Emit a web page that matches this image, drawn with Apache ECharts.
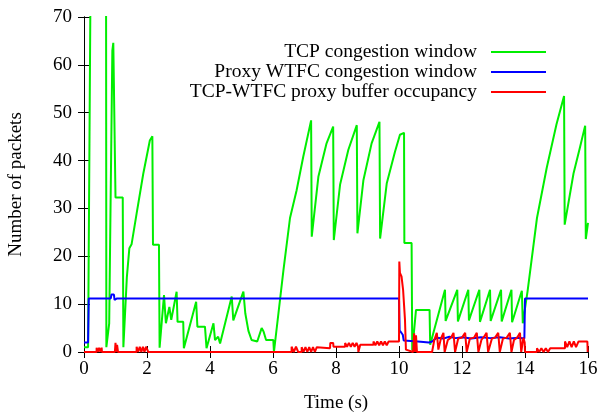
<!DOCTYPE html>
<html>
<head>
<meta charset="utf-8">
<script src="https://cdn.jsdelivr.net/npm/echarts@6/dist/echarts.min.js"></script>
<style>
  html, body { margin: 0; padding: 0; background: #fff; }
  #chart { width: 603px; height: 413px; }
</style>
</head>
<body>
<div id="chart"></div>
<script>
// 数据：时间(s) 与 分组数
const seriesNames = ['TCP congestion window', 'Proxy WTFC congestion window', 'TCP-WTFC proxy buffer occupancy'];
const xTicks = [0, 2, 4, 6, 8, 10, 12, 14, 16];
const yTicks = [0, 10, 20, 30, 40, 50, 60, 70];

const tcpCwnd = [
  [0, 1], [0.13, 1], [0.21, 80], [0.70, 80], [0.71, 1], [0.76, 1], [0.80, 6], [0.90, 63], [0.93, 64.6],
  [0.99, 64.6], [1.00, 32.3], [1.23, 32.3], [1.25, 1], [1.30, 0.8], [1.36, 15.6], [1.44, 21.7], [1.51, 22.5],
  [1.67, 28.9], [1.88, 37.2], [2.09, 44.2], [2.17, 45.1], [2.19, 22.4], [2.38, 22.4], [2.40, 0.9],
  [2.54, 11.9], [2.60, 6.0], [2.71, 9.4], [2.77, 6.7], [2.94, 12.6], [2.97, 6.3], [3.15, 6.3], [3.17, 0.8],
  [3.56, 10.5], [3.60, 5.3], [3.84, 5.3], [3.89, 0.8], [4.11, 6.0], [4.16, 2.5], [4.26, 3.2], [4.32, 1.8],
  [4.69, 11.6], [4.74, 6.6], [5.06, 12.6], [5.12, 8.1], [5.22, 4.4], [5.28, 4.1], [5.32, 2.5], [5.50, 2.2],
  [5.64, 5.0], [5.70, 4.3], [5.78, 2.5], [6.01, 2.5], [6.03, 0], [6.06, 0], [6.33, 17], [6.54, 28],
  [6.75, 33.8], [6.96, 40.8], [7.21, 48.4], [7.23, 24.1], [7.44, 36.6], [7.70, 43.6], [7.91, 47.1],
  [7.93, 23.4], [8.13, 35.0], [8.39, 42.2], [8.66, 47.4], [8.68, 24.8], [8.87, 35.9], [9.13, 43.6],
  [9.38, 48.1], [9.40, 23.7], [9.61, 35.2], [9.87, 41.8], [10.03, 45.4], [10.16, 45.8], [10.17, 22.8],
  [10.40, 22.8], [10.42, 0.3], [10.47, 0.3], [10.54, 8.8], [10.97, 8.8], [10.99, 1.5], [11.03, 1.5],
  [11.46, 13], [11.48, 6.5], [11.85, 13], [11.87, 6.4], [12.20, 13], [12.22, 6.6], [12.55, 13],
  [12.57, 6.3], [12.89, 13], [12.91, 6.5], [13.24, 13], [13.26, 6.4], [13.57, 13], [13.59, 6.2],
  [13.90, 12.8], [13.93, 6.0], [14.08, 12.6], [14.38, 28], [14.69, 38.5], [15.00, 47.6], [15.24, 53.5],
  [15.26, 26.6], [15.54, 37.3], [15.75, 42.9], [15.91, 47.3], [15.93, 23.6], [16.00, 27]
];

const proxyCwnd = [
  [0, 2], [0.13, 2], [0.15, 11.2], [0.85, 11.2], [0.87, 12], [0.95, 12], [0.97, 10.9], [1.02, 11],
  [1.05, 11.2], [10.00, 11.2], [10.02, 4.5], [10.12, 3.6], [10.15, 2.4], [10.60, 2.2], [10.95, 2.0],
  [11.05, 2.2], [11.20, 3.0], [11.40, 2.8], [11.60, 3.2], [11.80, 2.9], [12.00, 3.1], [12.30, 2.8],
  [12.60, 3.1], [12.90, 2.9], [13.20, 3.1], [13.50, 2.8], [13.80, 3.0], [13.98, 2.8], [14.00, 11.2],
  [16.00, 11.2]
];

const bufferOcc = [
  [0, 0], [0.40, 0], [0.40, 0.9], [0.44, 0], [0.48, 0.9], [0.52, 0], [0.56, 0.9], [0.57, 0],
  [0.98, 0], [1.00, 1.9], [1.02, 0], [1.05, 1.5], [1.08, 0],
  [1.67, 0], [1.67, 1.1], [1.72, 0], [1.77, 1.1], [1.82, 0], [1.87, 1.1], [1.92, 0], [1.97, 1.1], [2.03, 1.1], [2.04, 0],
  [6.59, 0], [6.59, 1.1], [6.66, 0], [6.73, 1.1], [6.80, 0],
  [6.91, 0], [6.91, 1], [6.97, 0], [7.03, 1], [7.09, 0], [7.15, 1], [7.21, 0], [7.27, 1], [7.33, 0], [7.39, 1],
  [7.44, 0.8], [7.81, 0.8], [7.82, 1.9], [7.91, 1.9], [7.92, 1.1], [8.29, 1.1], [8.29, 1.9], [8.35, 1.1],
  [8.41, 1.9], [8.47, 1.1], [8.53, 1.9], [8.59, 1.1], [8.65, 1.9], [8.70, 1.1], [8.71, 0], [8.76, 0],
  [8.77, 1.5], [9.19, 1.5], [9.19, 2.2], [9.25, 1.4], [9.31, 2.2], [9.37, 1.4], [9.43, 2.2], [9.49, 1.4],
  [9.55, 2.2], [9.61, 1.4], [9.67, 2.2], [10.00, 2.2],
  [10.01, 18.9], [10.03, 16.5], [10.08, 15.8], [10.13, 13], [10.19, 6.7], [10.22, 0.5], [10.45, 0],
  [10.48, 3.9], [10.51, 0], [10.54, 3.5], [10.57, 0], [11.05, 0], [11.12, 2.5], [11.20, 4], [11.25, 0.5],
  [11.33, 2.8], [11.41, 4], [11.45, 0], [11.55, 2.5], [11.65, 3], [11.73, 4], [11.78, 0], [11.88, 2.8],
  [12.00, 3], [12.10, 4], [12.15, 0], [12.25, 2.8], [12.38, 3], [12.47, 4], [12.52, 0], [12.62, 2.6],
  [12.70, 3.2], [12.78, 4], [12.83, 0], [12.95, 2.8], [13.05, 3], [13.15, 4], [13.20, 0], [13.30, 2.8],
  [13.42, 3], [13.52, 4], [13.57, 0], [13.65, 2.5], [13.75, 3], [13.84, 4], [13.88, 0], [13.95, 3],
  [13.99, 2], [14.00, 0],
  [14.38, 0], [14.38, 0.8], [14.45, 0], [14.52, 0.8], [14.59, 0], [14.66, 0.8], [14.73, 0], [14.80, 0.8],
  [15.27, 0.8], [15.27, 2.2], [15.34, 1], [15.41, 2.2], [15.48, 1], [15.55, 2.2], [15.62, 1], [15.70, 2.2],
  [15.98, 2.2], [15.99, 0], [16, 0]
];

const colors = ['#00ee00', '#0000ff', '#ff0000'];
const fontFamily = 'Liberation Serif';

const chart = echarts.init(document.getElementById('chart'));

const tickStyle = { show: true, inside: true, length: 6, lineStyle: { color: '#000', width: 1 } };
const lineAxis = { show: true, lineStyle: { color: '#000', width: 1 } };
const tickLabel = (margin) => ({
  margin: margin,
  color: '#000',
  fontSize: 19,
  fontFamily: fontFamily
});

const option = {
  animation: false,
  backgroundColor: '#fff',
  textStyle: { fontFamily: fontFamily, color: '#000', fontSize: 19 },
  grid: { left: 84, right: 15, top: 17, bottom: 61, outerBoundsMode: 'none', containLabel: false },
  legend: {
    orient: 'vertical',
    right: 52,
    top: 37,
    align: 'right',
    icon: 'rect',
    itemWidth: 55,
    itemHeight: 2,
    itemGap: 0,
    data: seriesNames,
    textStyle: { color: '#000', fontSize: 19.5, fontFamily: fontFamily, lineHeight: 20, padding: [0, 9, 0, 0] }
  },
  xAxis: [
    {
      type: 'value', min: xTicks[0], max: xTicks[xTicks.length - 1], interval: 2,
      name: 'Time (s)', nameLocation: 'middle', nameGap: 42,
      nameTextStyle: { color: '#000', fontSize: 19, fontFamily: fontFamily },
      axisLine: lineAxis, axisTick: tickStyle,
      axisLabel: tickLabel(8),
      splitLine: { show: false }
    },
    {
      type: 'value', position: 'top', min: xTicks[0], max: xTicks[xTicks.length - 1], interval: 2,
      axisLine: lineAxis, axisTick: tickStyle, axisLabel: { show: false }, splitLine: { show: false }
    }
  ],
  yAxis: [
    {
      type: 'value', min: yTicks[0], max: yTicks[yTicks.length - 1], interval: 10,
      name: 'Number of packets', nameLocation: 'middle', nameGap: 58,
      nameTextStyle: { color: '#000', fontSize: 19, fontFamily: fontFamily },
      axisLine: lineAxis, axisTick: tickStyle,
      axisLabel: tickLabel(12),
      splitLine: { show: false }
    },
    {
      type: 'value', position: 'right', min: yTicks[0], max: yTicks[yTicks.length - 1], interval: 10,
      axisLine: lineAxis, axisTick: tickStyle, axisLabel: { show: false }, splitLine: { show: false }
    }
  ],
  series: [tcpCwnd, proxyCwnd, bufferOcc].map((d, i) => ({
    name: seriesNames[i],
    type: 'line',
    data: d,
    symbol: 'none',
    showSymbol: false,
    clip: true,
    lineStyle: { color: colors[i], width: 2 },
    itemStyle: { color: colors[i] }
  }))
};

chart.setOption(option);
</script>
</body>
</html>
